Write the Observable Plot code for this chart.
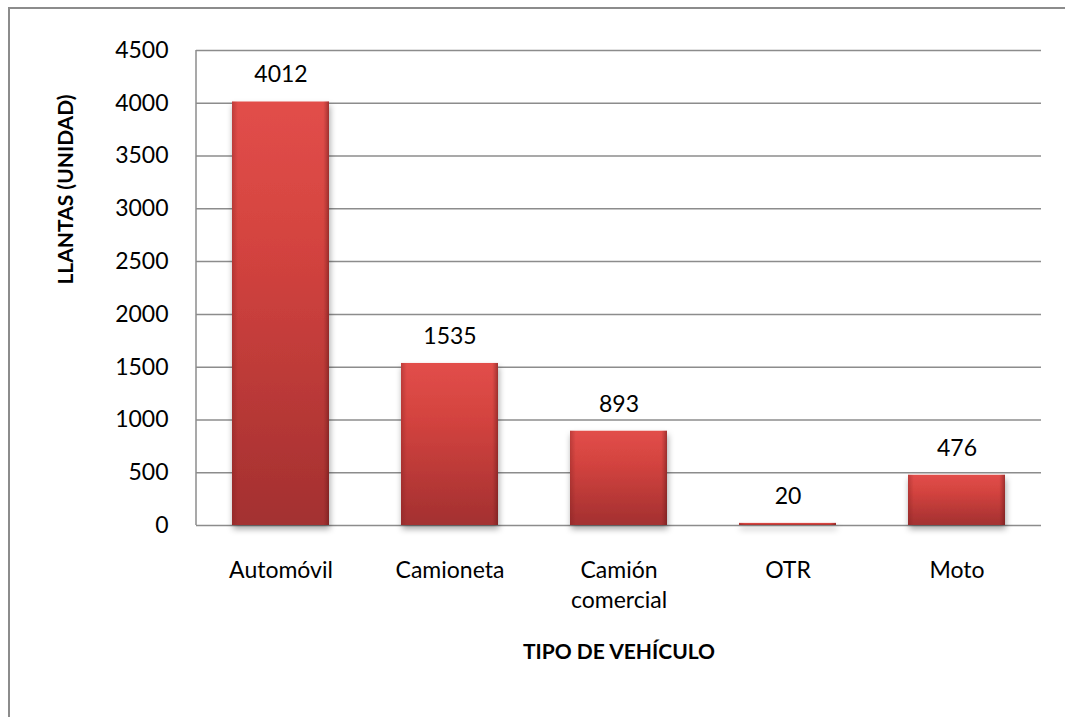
<!DOCTYPE html>
<html>
<head>
<meta charset="utf-8">
<script src="https://cdn.jsdelivr.net/npm/d3@7"></script>
<script src="https://cdn.jsdelivr.net/npm/@observablehq/plot@0.6"></script>
<style>
  html, body { margin: 0; padding: 0; background: #fff; overflow: hidden; width: 1065px; height: 717px; }
  #wrap { position: relative; width: 1065px; height: 717px; overflow: hidden; }
  #border { position: absolute; left: 8px; top: 7px; width: 1057px; height: 710px; border-left: 2px solid #8c8c8c; border-top: 2px solid #8c8c8c; box-sizing: border-box; }
  #chart { position: absolute; left: 0; top: 0; }
</style>
</head>
<body>
<div id="wrap"><div id="border"></div><div id="chart"></div></div>
<script>
const categories = ["Automóvil", "Camioneta", "Camión comercial", "OTR", "Moto"];
const values = [4012, 1535, 893, 20, 476];
const yTicks = [0, 500, 1000, 1500, 2000, 2500, 3000, 3500, 4000, 4500];
const xTitle = "TIPO DE VEHÍCULO";
const yTitle = "LLANTAS (UNIDAD)";

const data = categories.map((c, i) => ({tipo: c, llantas: values[i]}));

const leftLine = (index, scales, values, dims) => {
  const l = d3.create("svg:line")
    .attr("x1", dims.marginLeft).attr("x2", dims.marginLeft)
    .attr("y1", dims.marginTop).attr("y2", dims.height - dims.marginBottom)
    .attr("stroke", "#8c8c8c").attr("stroke-width", 1.5);
  return l.node();
};

const chart = Plot.plot({
  width: 1065,
  height: 717,
  marginLeft: 196,
  marginRight: 24,
  marginTop: 50,
  marginBottom: 192,
  style: {fontFamily: "Lato, 'Open Sans', sans-serif", fontSize: "23px", color: "#000", background: "transparent", overflow: "visible"},
  x: {domain: categories, paddingInner: 0.426, paddingOuter: 0.213, label: null},
  y: {domain: [0, 4500], label: null},
  marks: [
    Plot.gridY(yTicks, {stroke: "#8c8c8c", strokeOpacity: 1, strokeWidth: 1.5}),
    leftLine,
    Plot.axisY({ticks: yTicks, tickSize: 0, tickPadding: 28, fontSize: 23, tickFormat: d3.format("d"), label: null, fill: "#000"}),
    Plot.axisX({tickSize: 0, tickPadding: 31, fontSize: 23, lineHeight: 1.3, label: null, fill: "#000",
      tickFormat: d => d === "Camión comercial" ? "Camión\ncomercial" : d}),
    Plot.barY(data, {x: "tipo", y: "llantas", fill: "url(#barGrad)"}),
    Plot.barY(data, {x: "tipo", y: "llantas", fill: "url(#sideGrad)"}),
    Plot.text(data, {x: "tipo", y: "llantas", text: d => String(d.llantas), dy: -27, fontSize: 23, fill: "#000"}),
    Plot.text([xTitle], {frameAnchor: "bottom", dy: 133, fontWeight: "bold", fontSize: 21, fill: "#000"}),
    Plot.text([yTitle], {frameAnchor: "top-left", textAnchor: "middle", rotate: -90, dx: -138, dy: 139, fontWeight: "bold", fontSize: 21, fill: "#000"})
  ]
});

const svg = d3.select(chart);
const defs = svg.insert("defs", ":first-child");
const g1 = defs.append("linearGradient").attr("id", "barGrad").attr("x1", 0).attr("y1", 0).attr("x2", 0).attr("y2", 1);
g1.append("stop").attr("offset", "0%").attr("stop-color", "#e24e4a");
g1.append("stop").attr("offset", "35%").attr("stop-color", "#d3433f");
g1.append("stop").attr("offset", "100%").attr("stop-color", "#a33030");
const g2 = defs.append("linearGradient").attr("id", "sideGrad").attr("x1", 0).attr("y1", 0).attr("x2", 1).attr("y2", 0);
g2.append("stop").attr("offset", "0%").attr("stop-color", "#7a1f1f").attr("stop-opacity", 0.35);
g2.append("stop").attr("offset", "6%").attr("stop-color", "#7a1f1f").attr("stop-opacity", 0);
g2.append("stop").attr("offset", "94%").attr("stop-color", "#7a1f1f").attr("stop-opacity", 0);
g2.append("stop").attr("offset", "100%").attr("stop-color", "#5a1515").attr("stop-opacity", 0.5);
const f = defs.append("filter").attr("id", "shadow").attr("filterUnits", "userSpaceOnUse")
  .attr("x", 0).attr("y", 0).attr("width", 1065).attr("height", 717);
f.append("feDropShadow").attr("dx", 1).attr("dy", 4).attr("stdDeviation", 3).attr("flood-color", "#000").attr("flood-opacity", 0.35);
svg.select("g[aria-label='bar']").attr("filter", "url(#shadow)");

document.getElementById("chart").appendChild(chart);
</script>
</body>
</html>
